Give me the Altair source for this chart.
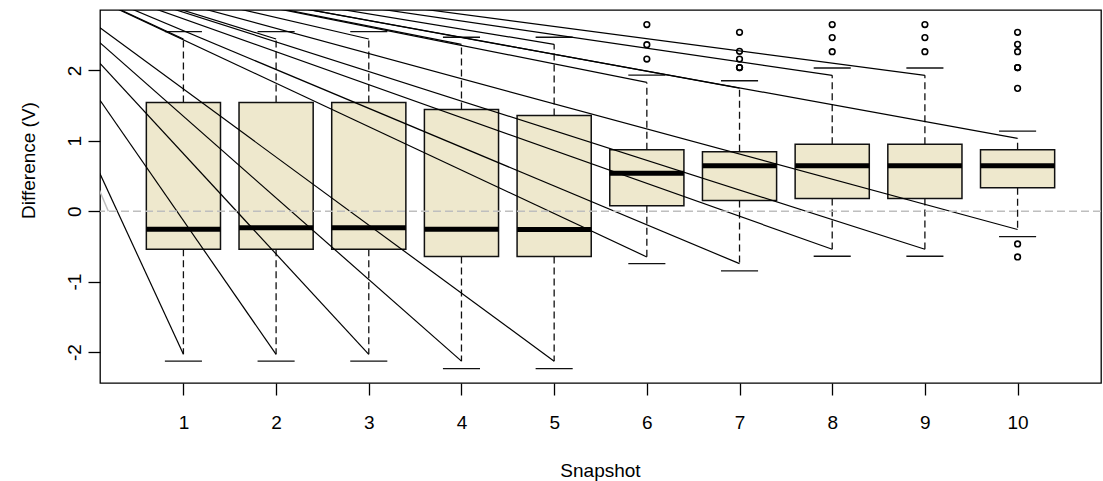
import altair as alt
import pandas as pd

# ---- data ----
snapshots = [1, 2, 3, 4, 5, 6, 7, 8, 9, 10]
q1 = [-0.54, -0.54, -0.54, -0.645, -0.645, 0.078, 0.151, 0.18, 0.18, 0.332]
median = [-0.258, -0.235, -0.235, -0.256, -0.26, 0.54, 0.645, 0.645, 0.645, 0.645]
q3 = [1.545, 1.545, 1.545, 1.445, 1.36, 0.874, 0.843, 0.952, 0.952, 0.871]
whisk_lo = [-2.033, -2.033, -2.033, -2.13, -2.13, -0.65, -0.745, -0.54, -0.54, -0.26]
whisk_hi = [2.445, 2.445, 2.445, 2.37, 2.37, 1.829, 1.748, 1.929, 1.929, 1.033]
cap_lo = [-2.13, -2.13, -2.13, -2.236, -2.236, -0.745, -0.848, -0.64, -0.64, -0.36]
cap_hi = [2.549, 2.549, 2.549, 2.47, 2.47, 1.933, 1.852, 2.033, 2.033, 1.137]

out_snap = [6, 6, 6,
            7, 7, 7, 7, 7,
            8, 8, 8,
            9, 9, 9,
            10, 10, 10, 10, 10, 10, 10, 10]
out_val = [2.65, 2.364, 2.16,
           2.54, 2.27, 2.16, 2.04, 2.04,
           2.65, 2.465, 2.265,
           2.65, 2.465, 2.265,
           2.54, 2.37, 2.265, 2.04, 2.04, 1.744, -0.465, -0.65]

x_ticks = [1, 2, 3, 4, 5, 6, 7, 8, 9, 10]
y_ticks = [-2, -1, 0, 1, 2]

# ---- tables ----
boxes = pd.DataFrame({
    "snap": snapshots, "q1": q1, "med": median, "q3": q3,
    "wlo": whisk_lo, "whi": whisk_hi, "clo": cap_lo, "chi": cap_hi,
})
outliers = pd.DataFrame({"snap": out_snap, "val": out_val})

SRC_X, SRC_Y = -1.0, 3.666
seg_rows = []
for s, lo, hi in zip(snapshots, whisk_lo, whisk_hi):
    seg_rows.append({"x0": SRC_X, "y0": SRC_Y, "x1": s, "y1": hi})
    seg_rows.append({"x0": SRC_X, "y0": SRC_Y, "x1": s, "y1": lo})
segs = pd.DataFrame(seg_rows)
gray_seg = pd.DataFrame({"x0": [SRC_X], "y0": [SRC_Y], "x1": [0.19], "y1": [0.0]})
zero = pd.DataFrame({"y": [0.0]})

FONT = "Liberation Sans"
xscale = alt.Scale(domain=[0.1, 10.9], nice=False, zero=False)
yscale = alt.Scale(domain=[-2.44, 2.857], nice=False, zero=False)

x_axis = alt.Axis(
    values=x_ticks, title="Snapshot", grid=False, domain=False,
    tickSize=12, tickWidth=1.3, tickColor="#000",
    labelFont=FONT, labelFontSize=19, labelColor="#000",
    labelBaseline="alphabetic", labelPadding=33, labelFlush=False,
    labelExpr="toString(datum.value)",
    titleFont=FONT, titleFontSize=19, titleFontWeight="normal", titleColor="#000",
    titleBaseline="alphabetic", titleY=93, titleX=500)
y_axis = alt.Axis(
    values=y_ticks, title="Difference (V)", grid=False, domain=False,
    tickSize=12, tickWidth=1.3, tickColor="#000",
    labelFont=FONT, labelFontSize=19, labelColor="#000",
    labelAngle=270, labelAlign="center", labelBaseline="alphabetic",
    labelPadding=8, labelFlush=False,
    labelExpr="toString(datum.value)",
    titleFont=FONT, titleFontSize=19, titleFontWeight="normal", titleColor="#000",
    titleAngle=270, titleBaseline="alphabetic", titleAlign="center",
    titleX=-66, titleY=150)


def XQ(field):
    return alt.X(field, type="quantitative", scale=xscale, axis=x_axis)


def YQ(field):
    return alt.Y(field, type="quantitative", scale=yscale, axis=y_axis)


base = alt.Chart(boxes).transform_calculate(
    xl="datum.snap - 0.4", xr="datum.snap + 0.4",
    cl="datum.snap - 0.2", cr="datum.snap + 0.2")

rects = base.mark_rect(fill="#EEE8CD", stroke="#111", strokeWidth=1.5).encode(
    x=XQ("xl"), x2="xr:Q", y=YQ("q1"), y2="q3:Q")
wh_hi = base.mark_rule(stroke="#111", strokeWidth=1.3, strokeDash=[7, 4]).encode(
    x=XQ("snap"), y=YQ("q3"), y2="whi:Q")
wh_lo = base.mark_rule(stroke="#111", strokeWidth=1.3, strokeDash=[7, 4]).encode(
    x=XQ("snap"), y=YQ("q1"), y2="wlo:Q")
caps_hi = base.mark_rule(stroke="#111", strokeWidth=1.3).encode(
    x=XQ("cl"), x2="cr:Q", y=YQ("chi"))
caps_lo = base.mark_rule(stroke="#111", strokeWidth=1.3).encode(
    x=XQ("cl"), x2="cr:Q", y=YQ("clo"))
meds = base.mark_rule(stroke="#000", strokeWidth=5, strokeCap="butt").encode(
    x=XQ("xl"), x2="xr:Q", y=YQ("med"))

outs = alt.Chart(outliers).mark_point(
    shape="circle", filled=False, stroke="#000", strokeWidth=1.6, size=32, opacity=1
).encode(x=XQ("snap"), y=YQ("val"))

zero_line = alt.Chart(zero).mark_rule(stroke="#BEBEBE", strokeWidth=1.5, strokeDash=[8, 4]).encode(
    y=YQ("y"))
gray_diag = alt.Chart(gray_seg).mark_rule(stroke="#BEBEBE", strokeWidth=1.5, clip=True).encode(
    x=XQ("x0"), x2="x1:Q", y=YQ("y0"), y2="y1:Q")
lines = alt.Chart(segs).mark_rule(stroke="#000", strokeWidth=1.2, clip=True).encode(
    x=XQ("x0"), x2="x1:Q", y=YQ("y0"), y2="y1:Q")

chart = alt.layer(
    wh_hi, wh_lo, caps_hi, caps_lo, rects, meds, outs,
    lines, zero_line, gray_diag
).properties(
    width=1001, height=373,
    padding={"left": 100, "top": 10, "right": 2, "bottom": 98},
    autosize=alt.AutoSizeParams(type="none"),
    background="white",
).configure_view(stroke="#000", strokeWidth=1.3)

chart.save("out.html", embed_options={"renderer": "svg", "actions": False})
